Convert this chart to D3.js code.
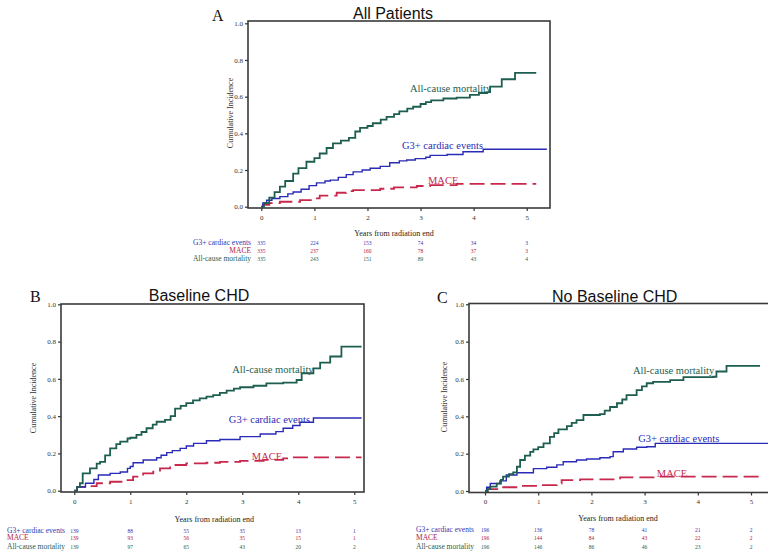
<!DOCTYPE html>
<html>
<head>
  <meta charset="utf-8">
  <title>Cumulative incidence</title>
  <script src="https://d3js.org/d3.v7.min.js"></script>
  <style>
    body { margin: 0; background: #fff; }
    .serif { font-family: "Liberation Serif", "Times New Roman", serif; }
    .sans { font-family: "Liberation Sans", Arial, sans-serif; }
  </style>
</head>
<body>
<svg id="chart" width="768" height="558"></svg>
<script>
// ---- data ----
var years = [0, 1, 2, 3, 4, 5];
var yTicks = [0, 0.2, 0.4, 0.6, 0.8, 1.0];
var seriesNames = ["G3+ cardiac events", "MACE", "All-cause mortality"];
var panelTitles = ["All Patients", "Baseline CHD", "No Baseline CHD"];
var panelLetters = ["A", "B", "C"];

// panel A: all patients  [years, cumulative incidence]
var aMortality = [[0,0],[0.05,0.02],[0.15,0.05],[0.25,0.08],[0.35,0.11],[0.45,0.14],[0.6,0.18],[0.7,0.21],[0.85,0.245],[1.0,0.265],[1.1,0.29],[1.23,0.32],[1.35,0.345],[1.5,0.36],[1.65,0.375],[1.77,0.41],[1.86,0.43],[2.0,0.44],[2.1,0.455],[2.25,0.475],[2.36,0.49],[2.5,0.505],[2.6,0.52],[2.75,0.535],[2.86,0.545],[3.0,0.56],[3.1,0.57],[3.2,0.58],[3.43,0.59],[3.68,0.595],[3.93,0.61],[4.1,0.62],[4.25,0.625],[4.31,0.655],[4.53,0.695],[4.78,0.73],[5.18,0.73]];
var aG3 = [[0,0],[0.03,0.02],[0.1,0.035],[0.2,0.045],[0.35,0.055],[0.5,0.07],[0.6,0.08],[0.75,0.095],[0.9,0.115],[1.04,0.13],[1.2,0.14],[1.3,0.145],[1.45,0.16],[1.6,0.175],[1.73,0.19],[1.9,0.2],[2.05,0.21],[2.24,0.22],[2.42,0.24],[2.6,0.25],[2.74,0.255],[2.9,0.262],[3.1,0.27],[3.18,0.28],[3.5,0.285],[3.8,0.3],[4.18,0.313],[5.38,0.313]];
var aMace = [[0,0],[0.03,0.01],[0.15,0.02],[0.35,0.027],[0.73,0.036],[0.98,0.045],[1.1,0.06],[1.42,0.076],[1.6,0.085],[1.73,0.09],[2.24,0.098],[2.5,0.105],[2.93,0.113],[3.18,0.118],[3.68,0.124],[5.18,0.124]];
var aRiskG3 = [335, 224, 153, 74, 34, 3];
var aRiskMace = [335, 237, 160, 78, 37, 3];
var aRiskMortality = [335, 243, 151, 89, 43, 4];

// panel B: baseline CHD
var bMortality = [[0,0],[0.05,0.02],[0.1,0.04],[0.15,0.093],[0.28,0.12],[0.4,0.145],[0.46,0.155],[0.55,0.19],[0.64,0.227],[0.75,0.25],[0.82,0.263],[0.95,0.28],[1.0,0.284],[1.11,0.3],[1.2,0.315],[1.29,0.335],[1.4,0.355],[1.47,0.37],[1.62,0.38],[1.72,0.4],[1.8,0.44],[1.9,0.455],[2.0,0.47],[2.12,0.485],[2.24,0.495],[2.36,0.505],[2.48,0.513],[2.6,0.525],[2.72,0.537],[2.85,0.548],[2.96,0.555],[3.2,0.563],[3.43,0.576],[3.73,0.58],[3.97,0.594],[4.06,0.63],[4.27,0.656],[4.39,0.687],[4.57,0.72],[4.77,0.773],[5.13,0.773]];
var bG3 = [[0,0],[0.05,0.02],[0.2,0.04],[0.35,0.06],[0.43,0.084],[0.64,0.093],[0.82,0.1],[0.95,0.12],[1.0,0.13],[1.05,0.15],[1.23,0.165],[1.47,0.177],[1.55,0.19],[1.65,0.204],[1.75,0.215],[1.89,0.227],[2.0,0.24],[2.13,0.254],[2.36,0.268],[2.6,0.275],[2.96,0.29],[3.32,0.304],[3.6,0.317],[3.73,0.335],[3.9,0.35],[4.03,0.367],[4.27,0.39],[5.13,0.39]];
var bMace = [[0,0],[0.05,0.02],[0.22,0.025],[0.4,0.04],[0.64,0.048],[0.93,0.057],[1.05,0.075],[1.23,0.093],[1.41,0.102],[1.53,0.12],[1.71,0.138],[2.0,0.147],[2.36,0.15],[2.6,0.155],[2.96,0.16],[3.38,0.165],[3.73,0.173],[3.8,0.179],[5.13,0.179]];
var bRiskG3 = [139, 88, 55, 35, 13, 1];
var bRiskMace = [139, 93, 56, 35, 15, 1];
var bRiskMortality = [139, 97, 65, 43, 20, 2];

// panel C: no baseline CHD
var cMortality = [[0,0],[0.05,0.01],[0.1,0.023],[0.22,0.04],[0.3,0.06],[0.34,0.077],[0.45,0.09],[0.53,0.1],[0.6,0.13],[0.66,0.166],[0.75,0.19],[0.85,0.21],[0.91,0.223],[1.0,0.235],[1.1,0.255],[1.22,0.29],[1.3,0.31],[1.38,0.33],[1.54,0.348],[1.63,0.365],[1.72,0.38],[1.85,0.407],[2.16,0.412],[2.25,0.43],[2.35,0.45],[2.48,0.47],[2.58,0.49],[2.66,0.514],[2.85,0.54],[2.95,0.56],[3.04,0.577],[3.16,0.585],[3.48,0.594],[3.73,0.61],[4.29,0.612],[4.35,0.64],[4.54,0.67],[5.17,0.67]];
var cG3 = [[0,0],[0.03,0.02],[0.1,0.04],[0.28,0.054],[0.4,0.086],[0.6,0.098],[0.91,0.12],[1.16,0.127],[1.35,0.14],[1.47,0.157],[1.72,0.166],[1.91,0.171],[2.16,0.178],[2.35,0.184],[2.41,0.21],[2.6,0.225],[2.85,0.234],[3.04,0.237],[3.2,0.255],[5.4,0.255]];
var cMace = [[0,0],[0.05,0.01],[0.28,0.02],[0.66,0.027],[1.03,0.032],[1.35,0.04],[1.44,0.058],[1.79,0.062],[2.54,0.073],[3.22,0.077],[5.17,0.077]];
var cRiskG3 = [196, 136, 78, 41, 21, 2];
var cRiskMace = [196, 144, 84, 43, 22, 2];
var cRiskMortality = [196, 146, 86, 46, 23, 2];

// ---- styling ----
var lineColors = ["#2a2ab8", "#c8284c", "#1d5e50"];
var textColors = ["#3535b0", "#b0203f", "#2a5e50"];

// layout of each panel (pixels)
var panels = [
  { box: [248, 550, 21, 208], x: [261.3, 526.7], y: [206.7, 23.3],
    title: [393, 18.5], letter: [212, 21], ylab: [230, 113],
    xtitle: 235.5, rows: [244.5, 252.5, 260.5], rowX: 251, rowAnchor: "end",
    labels: [[2.65, 0.315], [3.14, 0.124], [2.8, 0.625]],
    lines: [aG3, aMace, aMortality], risk: [aRiskG3, aRiskMace, aRiskMortality] },
  { box: [61, 364, 304, 492], x: [74.3, 354.3], y: [490.7, 304.3],
    title: [199, 300.7], letter: [30, 302], ylab: [33, 398],
    xtitle: 521.5, rows: [532.5, 540, 549], rowX: 7, rowAnchor: "start",
    labels: [[2.76, 0.363], [3.17, 0.165], [2.82, 0.633]],
    lines: [bG3, bMace, bMortality], risk: [bRiskG3, bRiskMace, bRiskMortality] },
  { box: [469, 771, 303.5, 492.5], x: [485, 751], y: [491, 304.3],
    title: [614.7, 301.7], letter: [437, 303], ylab: [444, 397],
    xtitle: 520.5, rows: [531.5, 540, 549], rowX: 416, rowAnchor: "start",
    labels: [[2.88, 0.262], [3.23, 0.075], [2.78, 0.627]],
    lines: [cG3, cMace, cMortality], risk: [cRiskG3, cRiskMace, cRiskMortality] }
];

var svg = d3.select("#chart");

panels.forEach(function(p, i) {
  var xScale = d3.scaleLinear().domain([0, 5]).range(p.x);
  var yScale = d3.scaleLinear().domain([0, 1]).range(p.y);
  var g = svg.append("g");

  var clipId = "clip" + i;
  g.append("clipPath").attr("id", clipId)
    .append("rect")
      .attr("x", p.box[0]).attr("y", p.box[2])
      .attr("width", p.box[1] - p.box[0]).attr("height", p.box[3] - p.box[2]);

  // axes
  var yAxis = d3.axisLeft(yScale).tickValues(yTicks).tickSize(3).tickPadding(2)
    .tickFormat(d3.format(".1f"));
  g.append("g")
    .attr("transform", "translate(" + p.box[0] + ",0)")
    .call(yAxis)
    .call(function(s) { s.select(".domain").remove(); });

  var xAxis = d3.axisBottom(xScale).tickValues(years).tickSize(3).tickPadding(4)
    .tickFormat(d3.format("d"));
  g.append("g")
    .attr("transform", "translate(0," + p.box[3] + ")")
    .call(xAxis)
    .call(function(s) { s.select(".domain").remove(); });

  g.selectAll(".tick text")
    .attr("class", "serif")
    .style("font-size", "7px")
    .attr("fill", "#333");
  g.selectAll(".tick line").attr("stroke", "#333").attr("stroke-width", 1.2);

  // frame
  g.append("rect")
    .attr("x", p.box[0]).attr("y", p.box[2])
    .attr("width", p.box[1] - p.box[0]).attr("height", p.box[3] - p.box[2])
    .attr("fill", "none").attr("stroke", "#3a3a3a").attr("stroke-width", 1.6);

  // curves
  var line = d3.line()
    .x(function(d) { return xScale(d[0]); })
    .y(function(d) { return yScale(d[1]); })
    .curve(d3.curveStepAfter);

  var order = [1, 0, 2];
  order.forEach(function(k) {
    g.append("path")
      .datum(p.lines[k])
      .attr("clip-path", "url(#" + clipId + ")")
      .attr("d", line)
      .attr("fill", "none")
      .attr("stroke", lineColors[k])
      .attr("stroke-width", k === 0 ? 1.4 : 1.8)
      .attr("stroke-dasharray", k === 1 ? "15,6" : null);
  });

  // curve labels
  p.labels.forEach(function(l, k) {
    g.append("text")
      .attr("class", "serif")
      .attr("x", xScale(l[0]))
      .attr("y", yScale(l[1]))
      .attr("fill", lineColors[k])
      .style("font-size", "10.5px")
      .text(seriesNames[k]);
  });

  // titles
  g.append("text")
    .attr("class", "sans")
    .attr("x", p.title[0]).attr("y", p.title[1])
    .attr("text-anchor", "middle")
    .style("font-size", "16px")
    .attr("fill", "#111")
    .text(panelTitles[i]);

  g.append("text")
    .attr("class", "serif")
    .attr("x", p.letter[0]).attr("y", p.letter[1])
    .style("font-size", "16px")
    .attr("fill", "#111")
    .text(panelLetters[i]);

  g.append("text")
    .attr("class", "serif")
    .attr("transform", "translate(" + p.ylab[0] + "," + p.ylab[1] + ") rotate(-90)")
    .attr("text-anchor", "middle")
    .attr("dy", "0.35em")
    .style("font-size", "8px")
    .attr("fill", "#333")
    .text("Cumulative Incidence");

  g.append("text")
    .attr("class", "serif")
    .attr("x", (p.x[0] + p.x[1]) / 2).attr("y", p.xtitle)
    .attr("text-anchor", "middle")
    .style("font-size", "8px")
    .attr("fill", "#222")
    .text("Years from radiation end");

  // numbers at risk
  p.risk.forEach(function(row, k) {
    g.append("text")
      .attr("class", "serif")
      .attr("x", p.rowX).attr("y", p.rows[k])
      .attr("text-anchor", p.rowAnchor)
      .style("font-size", "7.5px")
      .attr("fill", textColors[k])
      .text(seriesNames[k]);

    g.selectAll(null)
      .data(row)
      .enter().append("text")
        .attr("class", "serif")
        .attr("x", function(d, j) { return xScale(years[j]); })
        .attr("y", p.rows[k])
        .attr("text-anchor", "middle")
        .style("font-size", "5.5px")
        .attr("fill", textColors[k])
        .text(function(d) { return d; });
  });
});
</script>
</body>
</html>
